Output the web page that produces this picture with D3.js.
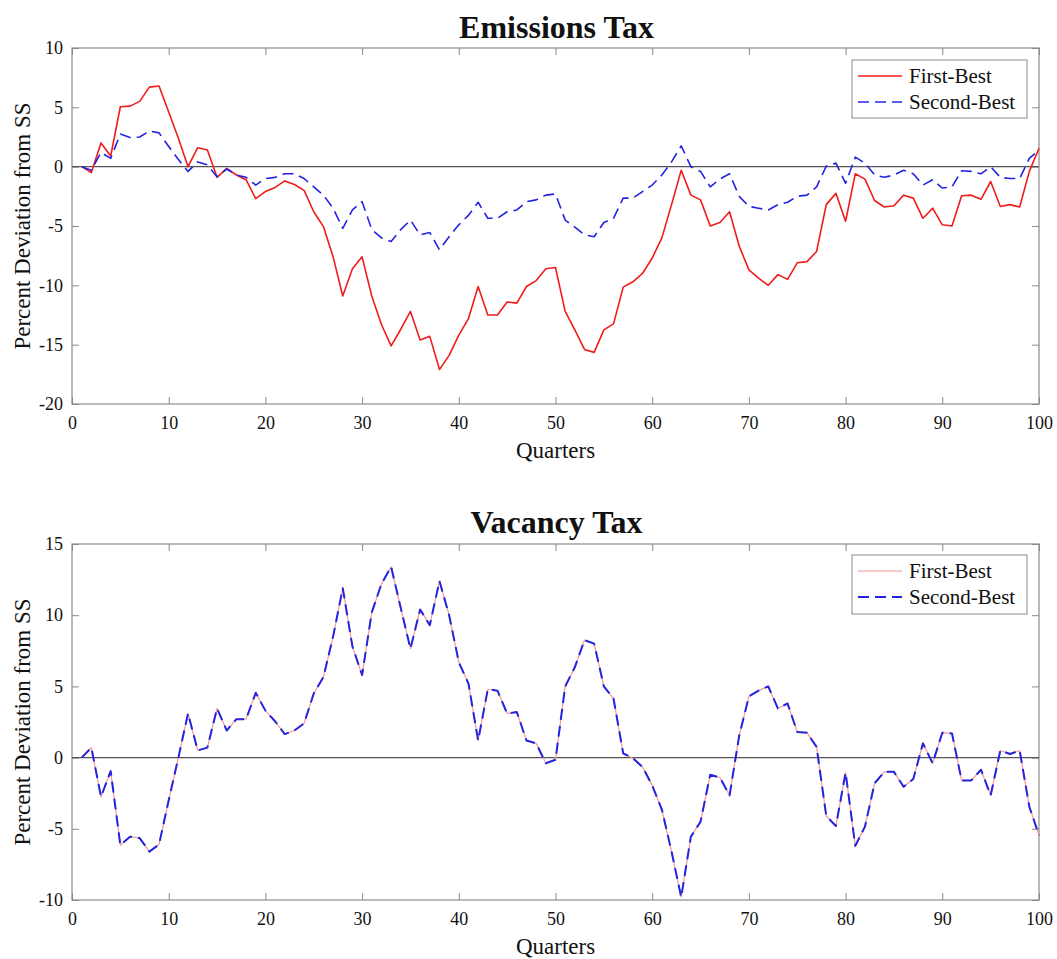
<!DOCTYPE html>
<html>
<head>
<meta charset="utf-8">
<script src="https://cdn.jsdelivr.net/npm/d3@7"></script>
<style>
  html, body { margin: 0; padding: 0; background: #fff; }
  svg { display: block; }
  text { font-family: "Liberation Serif", "Times New Roman", serif; fill: #111; }
</style>
</head>
<body>
<svg id="chart" width="1057" height="959"></svg>
<script>
// Quarters 1..100
const quarters = d3.range(1, 101);

// Emissions tax, percent deviation from steady state
const emissionsFirstBest = [
  0, -0.5, 2.0, 0.9, 5.05, 5.1, 5.5, 6.7, 6.8, 4.6,
  2.4, 0, 1.6, 1.4, -0.9, -0.15, -0.7, -1.1, -2.7, -2.1,
  -1.75, -1.2, -1.5, -2.0, -3.8, -5.05, -7.6, -10.9, -8.6, -7.6,
  -10.9, -13.3, -15.1, -13.7, -12.2, -14.6, -14.3, -17.1, -15.9, -14.2,
  -12.8, -10.1, -12.5, -12.5, -11.4, -11.5, -10.1, -9.6, -8.6, -8.5,
  -12.2, -13.75, -15.4, -15.65, -13.75, -13.25, -10.15, -9.7, -9.0, -7.7,
  -6.0, -3.2, -0.3, -2.4, -2.8, -5.0, -4.7, -3.8, -6.7, -8.7,
  -9.4, -10.0, -9.1, -9.5, -8.1, -8.0, -7.15, -3.2, -2.25, -4.6,
  -0.6, -1.05, -2.85, -3.4, -3.3, -2.4, -2.65, -4.35, -3.5, -4.9,
  -5.0, -2.45, -2.4, -2.75, -1.25, -3.35, -3.2, -3.4, -0.4, 1.55
];
const emissionsSecondBest = [
  0, -0.3, 1.2, 0.7, 2.75, 2.45, 2.5, 3.0, 2.85, 1.7,
  0.6, -0.4, 0.4, 0.15, -0.85, -0.2, -0.7, -0.9, -1.55, -1.0,
  -0.9, -0.6, -0.6, -1.0, -1.7, -2.4, -3.5, -5.2, -3.65, -2.95,
  -5.3, -6.0, -6.3, -5.3, -4.5, -5.75, -5.55, -7.0, -5.9, -4.9,
  -4.1, -3.0, -4.35, -4.35, -3.8, -3.65, -2.95, -2.8, -2.4, -2.3,
  -4.5, -5.1, -5.75, -5.9, -4.7, -4.35, -2.65, -2.65, -2.1, -1.55,
  -0.7, 0.4, 1.75, 0, -0.4, -1.7, -1.05, -0.6, -2.5, -3.35,
  -3.5, -3.65, -3.2, -3.0, -2.5, -2.4, -1.7, 0.05, 0.3, -1.4,
  0.8, 0.3, -0.7, -0.9, -0.7, -0.3, -0.6, -1.55, -1.1, -1.8,
  -1.7, -0.35, -0.4, -0.6, 0, -0.9, -1.0, -1.0, 0.7, 1.4
];

// Vacancy tax, percent deviation from steady state (both policies coincide)
const vacancyFirstBest = [
  0, 0.7, -2.75, -0.95, -6.15, -5.55, -5.65, -6.6, -6.1, -3.0,
  0, 3.1, 0.5, 0.7, 3.45, 1.9, 2.7, 2.7, 4.55, 3.3,
  2.55, 1.65, 1.9, 2.4, 4.5, 5.65, 8.5, 11.9, 7.8, 5.8,
  10.2, 12.2, 13.4, 10.5, 7.65, 10.4, 9.3, 12.4, 10.0, 6.7,
  5.2, 1.2, 4.8, 4.7, 3.1, 3.2, 1.2, 1.0, -0.4, -0.15,
  5.0, 6.35, 8.25, 8.0, 5.0, 4.15, 0.3, -0.05, -0.65, -1.95,
  -3.65, -6.6, -9.8, -5.55, -4.5, -1.2, -1.4, -2.65, 1.55, 4.3,
  4.7, 5.0, 3.45, 3.8, 1.8, 1.75, 0.75, -4.1, -4.8, -1.05,
  -6.2, -4.85, -1.8, -1.0, -1.0, -2.05, -1.5, 1.0, -0.4, 1.75,
  1.7, -1.6, -1.6, -0.85, -2.65, 0.5, 0.25, 0.5, -3.45, -5.45
];
const vacancySecondBest = vacancyFirstBest.slice();

const xTicks = [0, 10, 20, 30, 40, 50, 60, 70, 80, 90, 100];
const emissionsYTicks = [-20, -15, -10, -5, 0, 5, 10];
const vacancyYTicks = [-10, -5, 0, 5, 10, 15];
const legendLabels = ["First-Best", "Second-Best"];

const svg = d3.select("#chart");
const left = 72, right = 1039;

const panels = [
  {
    title: "Emissions Tax", top: 48, bottom: 404, domain: [-20, 10], yTicks: emissionsYTicks,
    first: emissionsFirstBest, second: emissionsSecondBest,
    firstStyle: { color: "#f01c1c", width: 1.6 },
    secondStyle: { color: "#2424e0", width: 1.6 },
    titleY: 38, legendTop: 60, legendH: 58
  },
  {
    title: "Vacancy Tax", top: 544, bottom: 900, domain: [-10, 15], yTicks: vacancyYTicks,
    first: vacancyFirstBest, second: vacancySecondBest,
    firstStyle: { color: "#f39a94", width: 1.2 },
    secondStyle: { color: "#2424e0", width: 2.0 },
    titleY: 533, legendTop: 555, legendH: 59
  }
];

const x = d3.scaleLinear().domain([0, 100]).range([left, right]);
const plain = d => String(d);

panels.forEach(p => {
  const y = d3.scaleLinear().domain(p.domain).range([p.bottom, p.top]);
  const g = svg.append("g");

  // Box and inward ticks on all four sides
  g.append("rect")
    .attr("x", left).attr("y", p.top)
    .attr("width", right - left).attr("height", p.bottom - p.top)
    .attr("fill", "none").attr("stroke", "#8a8a8a").attr("stroke-width", 1.2);

  const axisStyle = sel => {
    sel.select(".domain").remove();
    sel.selectAll(".tick line").attr("stroke", "#8a8a8a").attr("stroke-width", 1);
    sel.selectAll(".tick text")
      .style("font-family", "'Liberation Serif', 'Times New Roman', serif")
      .style("font-size", "18px").attr("fill", "#222");
  };

  g.append("g").attr("transform", `translate(0,${p.bottom})`)
    .call(d3.axisBottom(x).tickValues(xTicks).tickSize(-7).tickPadding(12).tickFormat(plain))
    .call(axisStyle);
  g.append("g").attr("transform", `translate(0,${p.top})`)
    .call(d3.axisTop(x).tickValues(xTicks).tickSize(-7).tickFormat(""))
    .call(axisStyle);
  g.append("g").attr("transform", `translate(${left},0)`)
    .call(d3.axisLeft(y).tickValues(p.yTicks).tickSize(-7).tickPadding(9).tickFormat(plain))
    .call(axisStyle);
  g.append("g").attr("transform", `translate(${right},0)`)
    .call(d3.axisRight(y).tickValues(p.yTicks).tickSize(-7).tickFormat(""))
    .call(axisStyle);

  // Zero reference line
  g.append("line")
    .attr("x1", left).attr("x2", right)
    .attr("y1", y(0)).attr("y2", y(0))
    .attr("stroke", "#555").attr("stroke-width", 1.4);

  const line = d3.line().x((d, i) => x(quarters[i])).y(d => y(d));

  g.append("path").datum(p.first)
    .attr("d", line).attr("fill", "none")
    .attr("stroke", p.firstStyle.color).attr("stroke-width", p.firstStyle.width)
    .attr("stroke-linejoin", "round");
  g.append("path").datum(p.second)
    .attr("d", line).attr("fill", "none")
    .attr("stroke", p.secondStyle.color).attr("stroke-width", p.secondStyle.width)
    .attr("stroke-dasharray", "11,6").attr("stroke-linejoin", "round");

  // Title
  g.append("text")
    .attr("x", (left + right) / 2 + 1).attr("y", p.titleY)
    .attr("text-anchor", "middle")
    .style("font-size", "32px").style("font-weight", "bold")
    .text(p.title);

  // Axis labels
  g.append("text")
    .attr("x", (left + right) / 2).attr("y", p.bottom + 54)
    .attr("text-anchor", "middle").style("font-size", "23px")
    .text("Quarters");
  g.append("text")
    .attr("transform", `translate(30,${(p.top + p.bottom) / 2}) rotate(-90)`)
    .attr("text-anchor", "middle").style("font-size", "23px")
    .text("Percent Deviation from SS");

  // Legend
  const lx = 852, lw = 175;
  const lg = g.append("g");
  lg.append("rect")
    .attr("x", lx).attr("y", p.legendTop).attr("width", lw).attr("height", p.legendH)
    .attr("fill", "#fff").attr("stroke", "#8a8a8a").attr("stroke-width", 1);
  const styles = [p.firstStyle, p.secondStyle];
  legendLabels.forEach((lab, i) => {
    const cy = p.legendTop + 16 + i * 26;
    lg.append("line")
      .attr("x1", lx + 6).attr("x2", lx + 50)
      .attr("y1", cy).attr("y2", cy)
      .attr("stroke", styles[i].color).attr("stroke-width", styles[i].width)
      .attr("stroke-dasharray", i === 1 ? "11,6" : null);
    lg.append("text")
      .attr("x", lx + 57).attr("y", cy + 7)
      .style("font-size", "21px")
      .text(lab);
  });
});
</script>
</body>
</html>
